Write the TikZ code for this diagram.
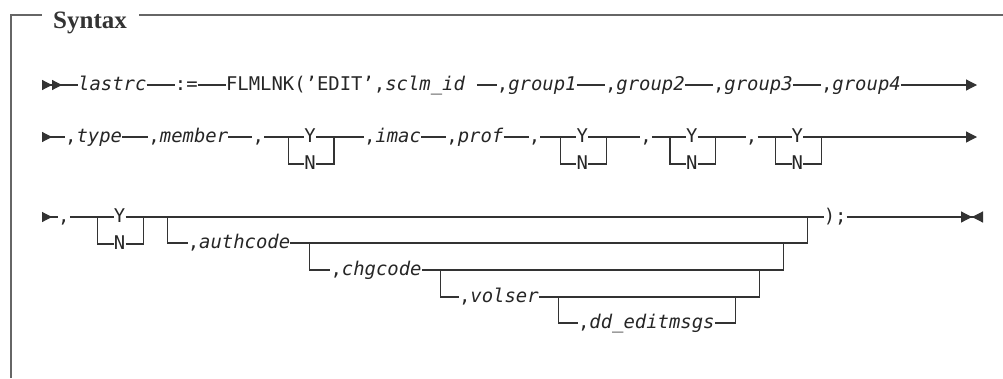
\documentclass[tikz,border=0pt]{standalone}
\usepackage{fontspec}
\setmonofont{DejaVu Sans Mono}[ItalicFont=* Oblique]
\newfontfamily\titlefont{Liberation Serif}
\usetikzlibrary{positioning,arrows.meta}

\newcommand\railfont{\ttfamily\fontsize{18.9}{22}\selectfont}

% one Y/N choice: name, node before it, gap
\newcommand\ynpair[3]{%
  \coordinate[right=#3 of #2] (#1l);
  \node[tok, right=16pt of #1l] (#1y) {Y};
  \node[tok, on grid, below=27pt of #1y] (#1n) {N};
  \coordinate[right=18pt of #1y] (#1r);
  \draw[rail] (#2) -- (#1l) -- (#1y) -- (#1r);
  \draw[rail] (#1l) |- (#1n) -- (#1n -| #1r) -- (#1r);
}

\tikzset{
  tok/.style={inner sep=0pt, text height=12pt, text depth=2pt, font=\railfont, text=black!85},
  rail/.style={line width=1.2pt, draw=black!80},
  frame/.style={line width=1.7pt, draw=black!60},
  title/.style={inner sep=0pt, anchor=base west, text=black!80, font=\titlefont\bfseries\fontsize{25}{28}\selectfont},
  railin/.style={{Triangle[reversed,length=10pt,width=10pt]Triangle[reversed,length=10pt,width=10pt]}-},
  railcont/.style={{Triangle[reversed,length=10pt,width=10pt]}-},
  railout/.style={-{Triangle[length=11pt,width=11pt]}},
  railend/.style={-{Triangle[length=11pt,width=11pt]Triangle[reversed,length=11pt,width=11pt]}},
}

\begin{document}
\begin{tikzpicture}[x=1pt, y=1pt]
  \useasboundingbox (0,0) rectangle (1003,-378);

  % frame with title
  \coordinate (fb) at (11,-378);
  \coordinate (ft) at (11,-15);
  \coordinate (fr) at (1003,-15);
  \node[title] (syn) at (53,-28) {Syntax};
  \draw[frame] (fb) -- (ft) -- ([xshift=31pt]ft);
  \draw[frame] ([xshift=12pt]syn.east |- ft) -- (fr);

  % first line
  \coordinate (r1) at (42,-85);
  \node[tok, right=36pt of r1] (lastrc) {\textit{lastrc}};
  \node[tok, right=28pt of lastrc] (assign) {:=};
  \node[tok, right=28pt of assign] (call) {FLMLNK(’EDIT’,\textit{sclm\_id}\phantom{x}};
  \node[tok, right=20pt of call] (g1) {,\textit{group1}};
  \node[tok, right=28pt of g1] (g2) {,\textit{group2}};
  \node[tok, right=28pt of g2] (g3) {,\textit{group3}};
  \node[tok, right=28pt of g3] (g4) {,\textit{group4}};
  \coordinate (r1e) at (977,-85);
  \draw[rail, railin] (r1) -- (lastrc);
  \draw[rail] (lastrc) -- (assign) -- (call) -- (g1) -- (g2) -- (g3) -- (g4);
  \draw[rail, railout] (g4) -- (r1e);

  % second line
  \coordinate (r2) at (42,-137);
  \node[tok, right=23pt of r2] (type) {,\textit{type}};
  \node[tok, right=26pt of type] (member) {,\textit{member}};
  \node[tok, right=24pt of member] (c1) {,};
  \draw[rail, railcont] (r2) -- (type);
  \draw[rail] (type) -- (member) -- (c1);
  \ynpair{p1}{c1}{24pt}
  \node[tok, right=30pt of p1r] (imac) {,\textit{imac}};
  \node[tok, right=25pt of imac] (prof) {,\textit{prof}};
  \node[tok, right=25pt of prof] (c2) {,};
  \draw[rail] (p1r) -- (imac) -- (prof) -- (c2);
  \ynpair{p2}{c2}{20pt}
  \node[tok, right=34pt of p2r] (c3) {,};
  \draw[rail] (p2r) -- (c3);
  \ynpair{p3}{c3}{18pt}
  \node[tok, right=30pt of p3r] (c4) {,};
  \draw[rail] (p3r) -- (c4);
  \ynpair{p4}{c4}{18pt}
  \coordinate (r2e) at (977,-137);
  \draw[rail, railout] (p4r) -- (r2e);

  % third line
  \coordinate (r3) at (42,-217);
  \node[tok, right=16pt of r3] (c5) {,};
  \draw[rail, railcont] (r3) -- (c5);
  \ynpair{p5}{c5}{28pt}
  \coordinate[right=24pt of p5r] (o1);
  \node[tok, right=656pt of o1] (close) {);};
  \coordinate (r3e) at (983,-217);
  \draw[rail] (p5r) -- (o1) -- (close);
  \draw[rail, railend] (close) -- (r3e);

  % nested optional parameters
  \coordinate[left=16pt of close] (x1);
  \coordinate[left=24pt of x1] (x2);
  \coordinate[left=24pt of x2] (x3);
  \coordinate[left=24pt of x3] (x4);
  \coordinate[below=26pt of o1] (a0);
  \node[tok, right=20pt of a0] (auth) {,\textit{authcode}};
  \coordinate[right=19pt of auth] (ab);
  \coordinate[below=27pt of ab] (c0);
  \node[tok, right=21pt of c0] (chg) {,\textit{chgcode}};
  \coordinate[right=19pt of chg] (cb);
  \coordinate[below=27pt of cb] (v0);
  \node[tok, right=18pt of v0] (vol) {,\textit{volser}};
  \coordinate[right=20pt of vol] (vb);
  \coordinate[below=26pt of vb] (d0);
  \node[tok, right=19pt of d0] (dd) {,\textit{dd\_editmsgs}};
  \draw[rail] (o1) |- (auth) -- (auth -| x1) -- (x1);
  \draw[rail] (ab) |- (chg) -- (chg -| x2) -- (auth -| x2);
  \draw[rail] (cb) |- (vol) -- (vol -| x3) -- (chg -| x3);
  \draw[rail] (vb) |- (dd) -- (dd -| x4) -- (vol -| x4);
\end{tikzpicture}
\end{document}
